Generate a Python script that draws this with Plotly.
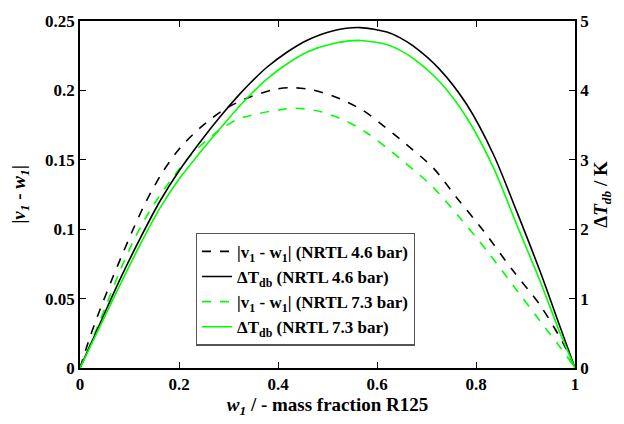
import plotly.graph_objects as go

# |v1 - w1| at 4.6 bar (black dashed)
x_d46 = [0, 0.02, 0.0404, 0.067, 0.0875, 0.108, 0.135, 0.168, 0.202, 0.242, 0.29, 0.337, 0.39, 0.424,
         0.471, 0.525, 0.572, 0.606, 0.646, 0.714, 0.761, 0.815, 0.875, 0.929, 0.976, 1.0]
v_d46 = [0, 0.0222, 0.042, 0.066, 0.0835, 0.1005, 0.121, 0.1418, 0.1585, 0.1728, 0.186, 0.1943, 0.2005, 0.202,
         0.2003, 0.194, 0.1855, 0.1765, 0.165, 0.144, 0.1227, 0.0989, 0.070, 0.0455, 0.018, 0]

# |v1 - w1| at 7.3 bar (green dashed)
x_d73 = [0, 0.027, 0.054, 0.081, 0.108, 0.141, 0.182, 0.222, 0.269, 0.317, 0.364, 0.404, 0.431, 0.485,
         0.539, 0.579, 0.646, 0.714, 0.768, 0.822, 0.875, 0.929, 0.97, 1.0]
v_d73 = [0, 0.0224, 0.0463, 0.0702, 0.0917, 0.1132, 0.1347, 0.1526, 0.168, 0.1789, 0.1836, 0.186, 0.1872, 0.1848,
         0.1777, 0.1695, 0.151, 0.13, 0.108, 0.0845, 0.0595, 0.034, 0.015, 0]

# Delta T_db (K)
x_T = [0, 0.0404, 0.081, 0.121, 0.162, 0.202, 0.242, 0.283, 0.323, 0.343, 0.377, 0.418, 0.458, 0.512, 0.566,
       0.62, 0.646, 0.673, 0.727, 0.781, 0.835, 0.882, 0.929, 0.97, 1.0]
T_46 = [0, 0.64, 1.28, 1.86, 2.41, 2.86, 3.25, 3.62, 3.95, 4.10, 4.33, 4.55, 4.72, 4.86, 4.905,
        4.84, 4.76, 4.64, 4.30, 3.80, 3.08, 2.26, 1.40, 0.59, 0]
T_73 = [0, 0.60, 1.20, 1.77, 2.31, 2.74, 3.10, 3.45, 3.78, 3.93, 4.16, 4.38, 4.55, 4.675, 4.72,
        4.66, 4.58, 4.46, 4.12, 3.61, 2.89, 2.07, 1.26, 0.50, 0]

x_ticks = [0, 0.2, 0.4, 0.6, 0.8, 1]
y_ticks = [0, 0.05, 0.1, 0.15, 0.2, 0.25]
y2_ticks = [0, 1, 2, 3, 4, 5]

GREEN = "#00ff00"
FONT = "Liberation Serif"

fig = go.Figure()
fig.add_trace(go.Scatter(x=x_d46, y=v_d46, mode="lines",
                         line=dict(color="black", dash="dash", width=1.6, shape="spline", smoothing=0.8),
                         name="|v<sub>1</sub> - w<sub>1</sub>| (NRTL 4.6 bar)"))
fig.add_trace(go.Scatter(x=x_T, y=T_46, mode="lines", yaxis="y2",
                         line=dict(color="black", width=1.6, shape="spline", smoothing=0.8),
                         name="ΔT<sub>db</sub> (NRTL 4.6 bar)"))
fig.add_trace(go.Scatter(x=x_d73, y=v_d73, mode="lines",
                         line=dict(color=GREEN, dash="dash", width=1.6, shape="spline", smoothing=0.8),
                         name="|v<sub>1</sub> - w<sub>1</sub>| (NRTL 7.3 bar)"))
fig.add_trace(go.Scatter(x=x_T, y=T_73, mode="lines", yaxis="y2",
                         line=dict(color=GREEN, width=1.6, shape="spline", smoothing=0.8),
                         name="ΔT<sub>db</sub> (NRTL 7.3 bar)"))

def axis_common():
    return dict(showline=True, linecolor="black", linewidth=1.5, ticks="inside", ticklen=6,
                tickcolor="black", tickwidth=1.2, showgrid=False, zeroline=False,
                tickfont=dict(family=FONT, size=17, color="black", weight="bold"))

fig.update_layout(
    width=624, height=424,
    margin=dict(l=80, r=49, t=19, b=56),
    paper_bgcolor="white", plot_bgcolor="white",
    font=dict(family=FONT, color="black", size=16),
    xaxis=dict(range=[0, 1], tickvals=x_ticks, ticktext=[f"{v:g}" for v in x_ticks], mirror="ticks",
               title=dict(text="<i>w<sub>1</sub></i> / - mass fraction R125", standoff=4,
                          font=dict(family=FONT, size=19, weight="bold")),
               **axis_common()),
    yaxis=dict(range=[0, 0.25], tickvals=y_ticks, ticktext=[f"{v:g}" for v in y_ticks],
               title=dict(text="|<i>v<sub>1</sub></i> - <i>w<sub>1</sub></i>|", standoff=14,
                          font=dict(family=FONT, size=19, weight="bold")),
               **axis_common()),
    yaxis2=dict(range=[0, 5], tickvals=y2_ticks, overlaying="y", side="right",
                title=dict(text="Δ<i>T<sub>db</sub></i> / K", standoff=6,
                           font=dict(family=FONT, size=19, weight="bold")),
                **axis_common()),
    legend=dict(x=0.234, y=0.39, xanchor="left", yanchor="top", bgcolor="white",
                bordercolor="#555555", borderwidth=1.2, tracegroupgap=0,
                font=dict(family=FONT, size=17, color="black", weight="bold"), itemwidth=30),
    showlegend=True,
)

fig.write_html("out.html")
